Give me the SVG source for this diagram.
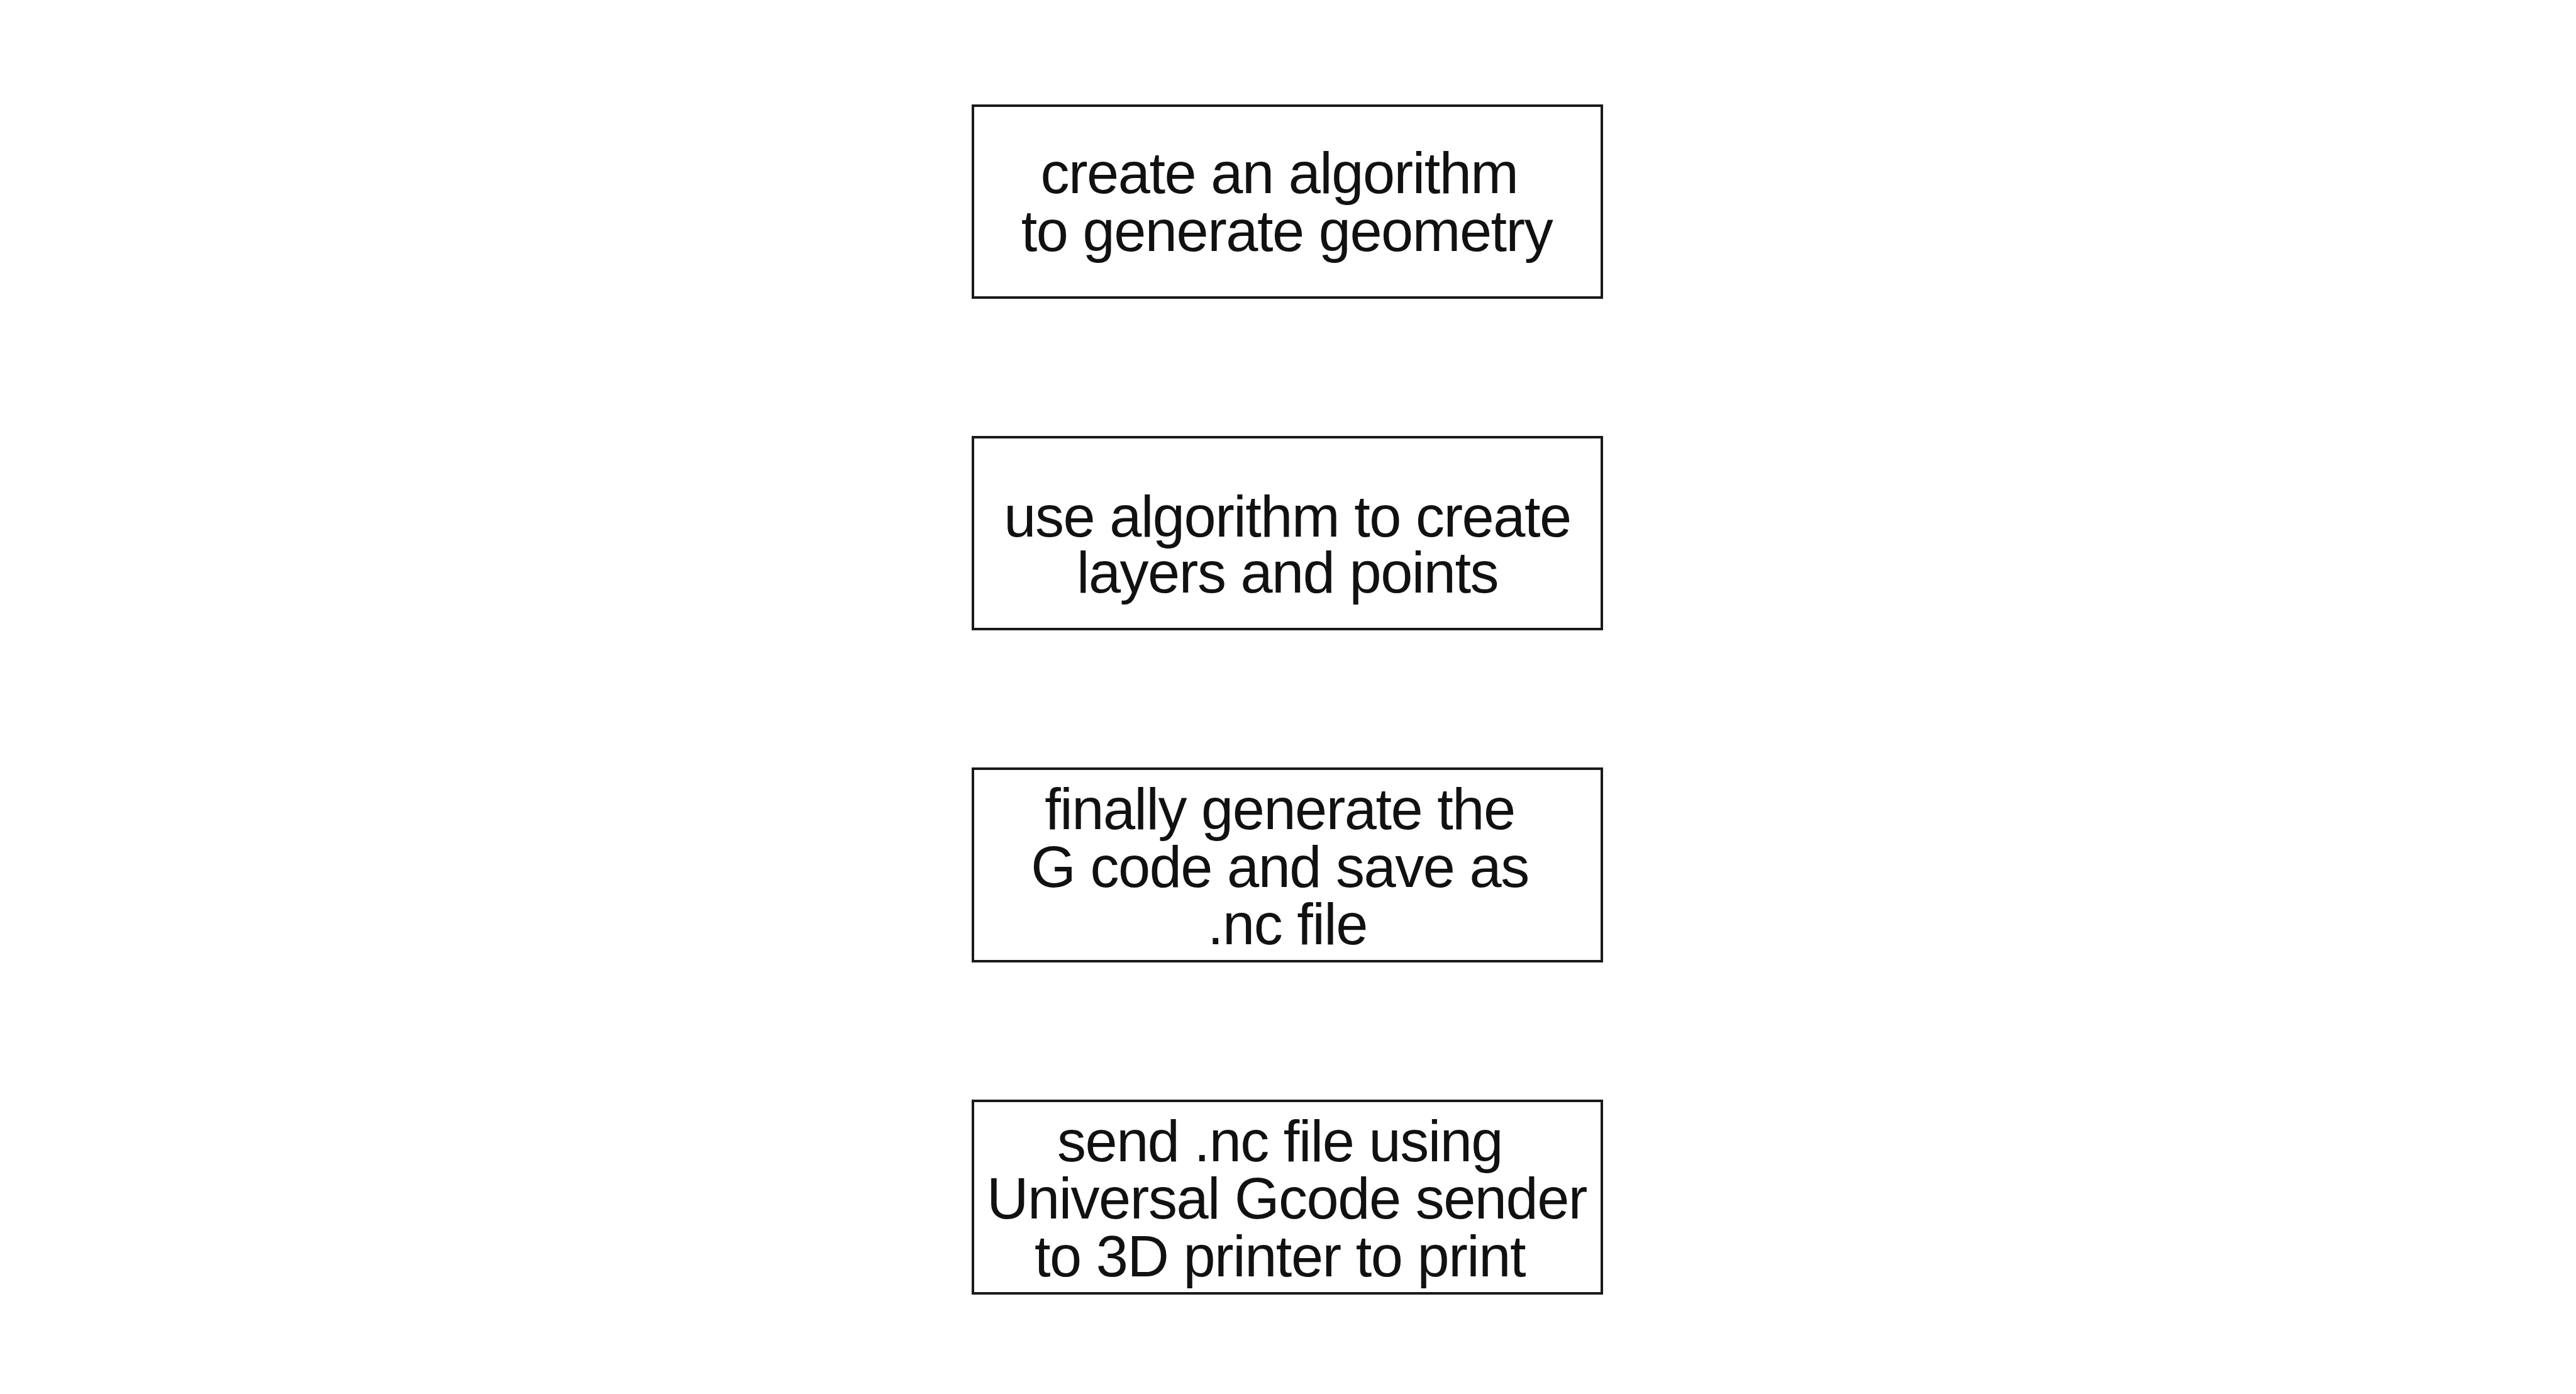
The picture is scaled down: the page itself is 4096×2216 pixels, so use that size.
<svg xmlns="http://www.w3.org/2000/svg" width="4096" height="2216" viewBox="0 0 4096 2216">
<style>
.box{fill:#fff;stroke:#1a1a1a;stroke-width:4}
.t{font-family:"Liberation Sans",Arial,Helvetica,sans-serif;font-size:92px;letter-spacing:-1.5px;fill:#111;text-anchor:middle}
</style>
<rect x="0" y="0" width="4096" height="2216" fill="#fff"/>
<g id="node1">
<rect class="box" x="1547" y="168" width="1000" height="305"/>
<text class="t" x="2034" y="307">create an algorithm</text>
<text class="t" x="2046" y="399">to generate geometry</text>
</g>
<g id="node2">
<rect class="box" x="1547" y="695" width="1000" height="305"/>
<text class="t" x="2047" y="853">use algorithm to create</text>
<text class="t" x="2047" y="942">layers and points</text>
</g>
<g id="node3">
<rect class="box" x="1547" y="1222" width="1000" height="306"/>
<text class="t" x="2035" y="1318">finally generate the</text>
<text class="t" x="2035" y="1410">G code and save as</text>
<text class="t" x="2047" y="1501">.nc file</text>
</g>
<g id="node4">
<rect class="box" x="1547" y="1750" width="1000" height="306"/>
<text class="t" x="2035" y="1846">send .nc file using</text>
<text class="t" x="2046" y="1937">Universal Gcode sender</text>
<text class="t" x="2035" y="2029">to 3D printer to print</text>
</g>
<g id="connectors"></g>
</svg>
